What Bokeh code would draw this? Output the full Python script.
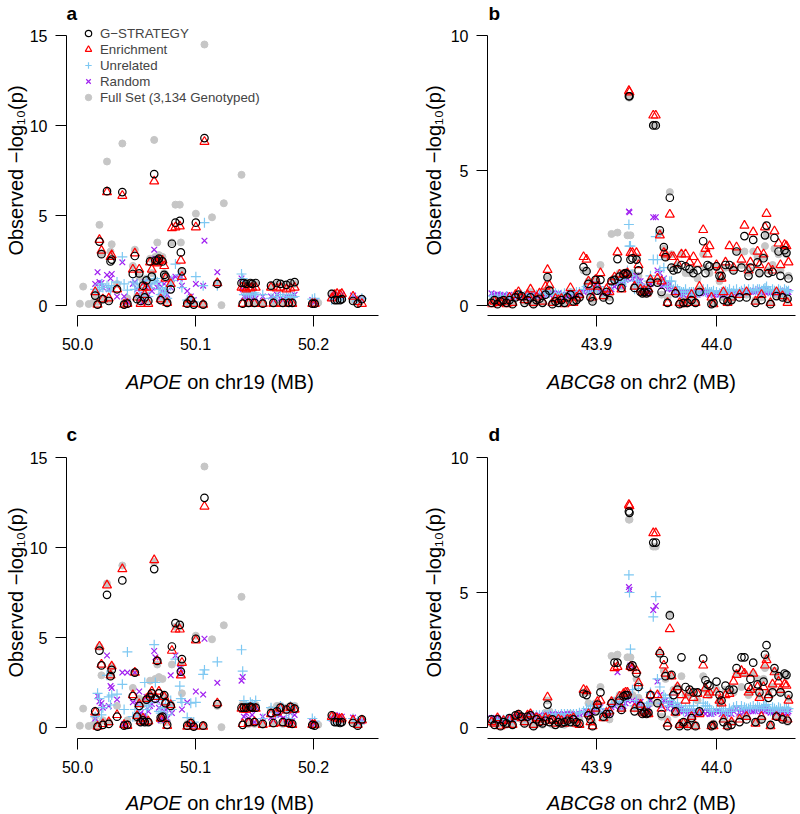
import numpy as np
from bokeh.plotting import figure
from bokeh.models import (ColumnDataSource, Range1d, FixedTicker, PrintfTickFormatter,
                          Legend, LegendItem, Div)
from bokeh.layouts import column, row
from bokeh.embed import file_html
from bokeh.resources import INLINE

N = float("nan")

# ---------------- APOE locus (chr19, Mb) : panels a and c ----------------
apoe_pos = [50.0020, 50.0048, 50.0095, 50.0133,
            50.0150, 50.0170, 50.0186, 50.0203, 50.0215, 50.0250, 50.0265, 50.0280, 50.0290, 50.0335,
            50.0380, 50.0395, 50.0423, 50.0469, 50.0486, 50.0505, 50.0523, 50.0535, 50.0555, 50.0570,
            50.0585, 50.0600, 50.0615, 50.0630, 50.0650, 50.0660, 50.0676, 50.0690, 50.0705, 50.0720,
            50.0735, 50.0746, 50.0760, 50.0790, 50.0800, 50.0830, 50.0867, 50.0876, 50.0885, 50.0930,
            50.0960, 50.0985, 50.1003, 50.1065, 50.1076, 50.1140, 50.1185, 50.1220, 50.1240, 50.1390,
            50.1400, 50.1410, 50.1430, 50.1450, 50.1465, 50.1480, 50.1500, 50.1510, 50.1570, 50.1640,
            50.1660, 50.1690, 50.1720, 50.1740, 50.1770, 50.1790, 50.1805, 50.1820, 50.1840, 50.1990,
            50.2010, 50.2040, 50.2155, 50.2180, 50.2200, 50.2225, 50.2240, 50.2335, 50.2375, 50.2410]
apoe_full = [0.10, 1.05, 0.08, 0.15,
             0.6, 0.2, 4.48, 2.9, 0.4, 8.0, 0.3, 3.0, 3.4, 1.2,
             9.0, 0.15, 0.4, 2.2, 3.1, 0.5, 1.6, 0.3, 1.3, 0.6,
             1.5, 0.3, 2.6, 1.8, 9.2, 2.7, 3.5, 2.8, 0.4, 2.7,
             1.8, 1.7, 0.3, 1.3, 3.5, 5.6, 5.6, 3.5, 1.9, 0.2,
             0.35, 0.1, 5.1, 0.1, 14.5, 4.9, 1.2, 0.02, 5.68, 7.26,
             1.3, 1.2, 1.2, 0.2, 1.2, 1.2, 0.2, 1.25, 0.15, 1.0,
             0.2, 1.2, 1.2, 0.2, 1.1, 0.2, 1.2, 0.2, 1.2, 0.15,
             0.15, 0.15, 0.7, 0.3, 0.3, 0.3, 0.4, 0.3, 0.1, 0.35]
apoe_gstrat_a = [N, N, N, N,
                 0.55, 0.05, 3.55, 2.85, 0.35, 6.35, 0.25, 2.45, 2.55, 0.9,
                 6.3, 0.05, 0.1, 1.75, 2.75, 0.35, 1.78, 0.25, 1.1, 0.45,
                 1.4, 0.25, 2.45, 1.6, 7.3, 2.5, 2.5, 2.6, 0.3, 2.45,
                 1.7, 1.6, 0.15, 0.9, 3.43, 4.6, 4.7, 2.95, 1.9, 0.1,
                 0.3, 0.05, 4.6, 0.05, 9.3, N, 1.2, N, N, 1.25,
                 0.1, 1.25, 1.2, 0.15, 1.25, 1.2, 0.15, 1.25, 0.1, 1.1,
                 0.15, 1.25, 1.2, 0.15, 1.15, 0.15, 1.25, 0.15, 1.3, 0.1,
                 0.1, N, 0.65, 0.3, 0.3, 0.3, 0.35, 0.25, 0.1, 0.35]
apoe_enrich_a = [N, N, N, N,
                 0.75, 0.05, 3.65, 3.05, 0.35, 6.3, 0.4, 2.7, 2.8, 0.9,
                 6.1, 0.05, 0.1, 2.0, 2.9, 0.45, 2.0, 0.1, 1.0, 0.6,
                 1.0, 0.1, 2.4, 2.0, 6.9, 2.4, 2.35, 2.5, 0.35, 2.5,
                 2.2, 1.5, 0.15, 1.2, 4.3, 4.35, 4.4, 2.5, 1.6, 0.1,
                 0.35, 0.1, 4.35, 0.05, 9.1, N, 1.25, N, N, 1.0,
                 0.1, 1.0, 0.9, 0.1, 0.95, 1.0, 0.1, 1.0, 0.1, 1.0,
                 0.1, 0.95, 1.0, 0.1, 0.9, 0.1, 0.95, 0.1, 1.0, 0.1,
                 0.1, N, 0.4, 0.6, 0.65, 0.6, 0.65, 0.5, 0.2, 0.1]
apoe_unrel_a = [N, N, N, N,
                0.9, 0.8, 0.9, 1.2, 1.0, 1.1, 1.0, 0.8, 1.1, 1.3,
                2.7, 1.2, 0.85, 1.3, 0.9, 1.2, 1.0, 0.5, 0.6, 1.1,
                1.4, 0.5, 1.0, 1.2, 1.4, 1.5, 1.3, 0.9, 0.6, 1.0,
                0.7, 0.9, 0.4, 1.1, 1.4, 2.3, 1.7, 1.5, 1.0, 0.3,
                0.4, 0.2, 1.6, 1.1, 4.6, N, 1.1, N, N, 1.75,
                1.5, 0.6, 0.7, 0.6, 0.6, 0.7, 0.7, 0.6, 0.6, 0.4,
                0.4, 0.5, 0.6, 0.5, 0.5, 0.4, 0.6, 0.45, 0.5, 0.35,
                0.4, N, 0.3, 0.4, 0.5, 0.4, 0.5, 0.4, 0.3, 0.4]
apoe_random_a = [N, N, N, N,
                 1.2, 1.85, 1.3, 1.25, 1.0, 1.7, 0.9, 1.5, 1.75, 0.5,
                 2.4, 0.5, 0.2, 1.2, 1.3, 0.9, 0.6, 0.4, 0.2, 1.3,
                 1.0, 0.6, 1.1, 0.8, 3.1, 2.6, 1.0, 1.2, 0.5, 0.8,
                 1.2, 0.7, 0.6, 1.0, 1.5, 1.6, 1.5, 1.6, 1.1, 0.8,
                 0.5, 0.3, 1.2, 1.1, 3.6, N, 1.85, N, N, 1.5,
                 0.9, 0.5, 0.5, 0.4, 0.5, 0.6, 0.5, 0.4, 0.5, 0.5,
                 0.3, 0.6, 0.4, 0.3, 0.5, 0.3, 0.5, 0.4, 0.6, 0.3,
                 0.2, N, 0.4, 0.6, 0.55, 0.5, 0.6, 0.55, 0.4, 0.3]
apoe_gstrat_c = [N, N, N, N,
                 0.9, 0.05, 4.27, 3.45, 0.15, 7.37, 0.2, 2.85, 3.2, 0.6,
                 8.17, 0.1, 0.15, 1.75, 3.05, 0.6, 1.2, 0.3, 0.4, 0.3,
                 1.55, 0.3, 1.7, 1.9, 8.8, 1.6, 3.7, 1.9, 0.55, 0.6,
                 1.8, 1.35, 0.15, 1.2, 4.5, 5.8, 5.7, 3.1, 3.8, 0.1,
                 0.25, 0.05, 4.93, 0.1, 12.76, N, 1.3, N, N, 1.1,
                 0.15, 1.1, 1.1, 0.3, 1.15, 1.1, 0.3, 1.1, 0.2, 0.8,
                 0.25, 0.9, 1.1, 0.3, 1.0, 0.25, 1.15, 0.2, 1.05, 0.15,
                 0.1, N, 0.68, 0.3, 0.3, 0.25, 0.3, 0.25, 0.1, 0.45]
apoe_enrich_c = [N, N, N, N,
                 0.85, 0.05, 4.5, 3.5, 0.2, 7.9, 0.3, 2.9, 3.4, 0.7,
                 8.8, 0.15, 0.1, 1.8, 3.05, 0.65, 1.3, 0.35, 0.5, 0.3,
                 1.6, 0.35, 1.8, 2.0, 9.3, 1.7, 3.7, 2.0, 0.5, 0.5,
                 1.7, 1.4, 0.1, 1.25, 4.27, 5.45, 5.45, 2.9, 3.6, 0.05,
                 0.2, 0.05, 4.85, 0.05, 12.28, N, 1.35, N, N, 1.05,
                 0.2, 1.0, 1.0, 0.25, 1.1, 1.05, 0.3, 1.05, 0.15, 0.75,
                 0.2, 0.85, 1.05, 0.25, 0.95, 0.2, 1.1, 0.15, 1.0, 0.15,
                 0.15, N, 0.6, 0.55, 0.5, 0.45, 0.5, 0.4, 0.15, 0.4]
apoe_unrel_c = [N, N, N, N,
                0.6, 1.9, 1.6, 0.7, 1.1, 2.9, 1.7, 1.25, 1.8, 1.85,
                2.4, 1.0, 4.2, 0.6, 1.0, 1.0, 0.7, 1.2, 0.5, 2.5,
                1.0, 1.2, 1.4, 1.6, 4.6, 2.5, 1.6, 0.9, 0.8, 1.3,
                1.1, 1.5, 0.7, 1.5, 1.0, 3.8, 2.3, 1.6, 1.4, 0.55,
                1.35, 0.3, 1.4, 2.95, 3.2, N, 3.65, N, N, 4.32,
                3.13, 1.5, 1.2, 1.1, 1.4, 1.3, 1.2, 1.5, 0.5, 1.1,
                0.6, 0.9, 1.2, 1.1, 0.8, 0.5, 1.2, 0.9, 1.1, 0.5,
                0.35, N, 0.4, 0.5, 0.45, 0.4, 0.5, 0.5, 0.35, 0.3]
apoe_random_c = [N, N, N, N,
                 0.5, 1.75, 1.45, 1.35, 1.1, 4.0, 1.2, 2.3, 2.2, 1.55,
                 3.05, 0.2, 3.05, 1.4, 3.05, 1.3, 2.0, 0.8, 0.3, 0.7,
                 1.7, 0.9, 1.2, 1.3, 4.25, 3.9, 1.5, 1.1, 0.4, 0.6,
                 0.9, 1.0, 0.5, 2.9, 0.8, 4.0, 3.3, 3.0, 1.0, 1.4,
                 0.2, 0.1, 2.0, 1.83, 4.93, N, 2.48, N, N, 2.6,
                 2.8, 0.6, 0.8, 0.5, 1.0, 0.7, 0.3, 1.1, 0.6, 0.55,
                 0.4, 0.8, 0.7, 0.5, 0.45, 0.3, 0.8, 0.35, 0.7, 0.3,
                 0.2, N, 0.5, 0.7, 0.65, 0.55, 0.6, 0.55, 0.3, 0.35]

# ---------------- ABCG8 locus (chr2, Mb) : panels b and d ----------------
abcg8_pos = [43.8125, 43.8150, 43.8175, 43.8200, 43.8225, 43.8250, 43.8275, 43.8300, 43.8325, 43.8350,
             43.8375, 43.8400, 43.8425, 43.8450, 43.8475, 43.8500, 43.8525, 43.8550, 43.8575, 43.8592,
             43.8608, 43.8633, 43.8658, 43.8683, 43.8708, 43.8733, 43.8758, 43.8783, 43.8808, 43.8833,
             43.8858, 43.8892, 43.8917, 43.8933, 43.8950, 43.8967, 43.8992, 43.9008, 43.9033, 43.9058,
             43.9083, 43.9108, 43.9125, 43.9150, 43.9175, 43.9192, 43.9208, 43.9225, 43.9242, 43.9258,
             43.9270, 43.9275, 43.9283, 43.9300, 43.9317, 43.9333, 43.9350, 43.9367, 43.9383, 43.9400,
             43.9417, 43.9433, 43.9450, 43.9473, 43.9494, 43.9508, 43.9528, 43.9542, 43.9561, 43.9575,
             43.9592, 43.9611, 43.9625, 43.9642, 43.9658, 43.9675, 43.9692, 43.9708, 43.9725, 43.9742,
             43.9758, 43.9775, 43.9792, 43.9808, 43.9825, 43.9842, 43.9858, 43.9889, 43.9908, 43.9925,
             43.9942, 43.9958, 43.9975, 44.0000, 44.0025, 44.0042, 44.0058, 44.0075, 44.0092, 44.0108,
             44.0125, 44.0142, 44.0167, 44.0192, 44.0208, 44.0233, 44.0250, 44.0267, 44.0283, 44.0306,
             44.0325, 44.0342, 44.0358, 44.0375, 44.0392, 44.0404, 44.0417, 44.0433, 44.0450, 44.0467,
             44.0483, 44.0500, 44.0517, 44.0533, 44.0550, 44.0567, 44.0583, 44.0592, 44.0600]
abcg8_full = [.15, .20, .10, .15, .20, .10, .25, .10, .35, .40,
              .30, .15, .20, .50, .05, .20, .30, .10, .55, 1.00,
              .60, .10, .20, .15, .20, .10, .25, .50, .15, .20,
              .30, 1.30, 1.30, .90, .40, .20, .90, .60, 1.50, .35,
              .50, .30, 2.65, 1.00, 2.70, 1.20, .70, 1.20, 1.20, 2.60,
              7.70, 7.70, 2.60, 1.20, .70, 1.80, 1.10, .60, .50, .60,
              .50, .55, .90, 6.70, 6.70, .90, 2.70, .40, 2.10, 1.80,
              .30, 4.20, 1.90, 1.40, .50, 1.50, .05, 1.90, .20, 1.20,
              .10, 1.20, .30, 1.30, .10, 1.00, .60, 1.90, 1.40, 1.30,
              1.20, .10, .15, 1.40, .90, 1.00, .30, 1.40, .10, 1.40,
              .20, 1.30, 2.00, .40, 1.50, 2.00, .40, 1.20, 1.30, 2.00,
              .20, 1.80, 1.20, .30, 1.80, 2.20, 2.60, 1.30, .10, 1.50,
              2.10, .40, 1.90, 1.30, .30, 2.00, 1.90, .20, 1.10]
abcg8_gstrat_b = [.10, .20, .05, .15, .20, .10, .20, .05, .30, .40,
                  .35, .10, .20, .30, .05, .20, .25, .10, .40, 1.05,
                  .55, .05, .15, .10, .20, .10, .30, .40, .15, .20,
                  .30, 1.42, 1.27, .80, .30, .15, .95, .55, .95, .30,
                  .50, .20, .90, .95, 1.72, 1.07, .65, 1.15, 1.20, 1.15,
                  7.75, 7.75, 1.70, 1.75, .65, 1.70, 1.30, .50, .45, .50,
                  .45, .50, .85, 6.67, 6.67, .85, 2.78, .50, 2.16, 1.79,
                  .10, 3.99, 1.40, 1.30, .45, 1.35, .05, 1.50, .10, 1.45,
                  .10, 1.35, .20, 1.20, .10, 1.30, .50, 2.38, 1.20, 1.50,
                  1.45, .05, .10, 1.45, 1.10, 1.10, .20, 1.50, .15, 1.50,
                  .20, 1.30, 2.00, .30, 1.40, 2.57, .30, 1.10, 1.40, 2.43,
                  .10, 1.60, 1.20, .20, 1.75, 2.60, 2.96, 1.20, .05, 1.25,
                  2.50, .35, 2.00, 1.10, .30, 2.05, 1.95, .25, 1.00]
abcg8_enrich_b = [.05, .15, .10, .10, .15, .05, .30, .10, .40, .50,
                  .30, .20, .40, .60, .10, .30, .45, .15, .70, 1.32,
                  .75, .10, .25, .20, .25, .05, .30, .65, .10, .30,
                  .40, 1.80, 1.70, .90, .70, .30, .95, .70, 1.20, .35,
                  .60, .50, .90, 1.05, 1.97, 1.15, .60, 1.15, 1.15, 1.20,
                  7.95, 7.90, 1.95, 1.95, .70, 1.95, 1.50, .60, .50, .55,
                  .45, .60, .95, 7.04, 7.04, 1.00, 2.60, .90, 1.95, 1.90,
                  .10, 3.37, 1.80, 1.80, .50, 1.55, .10, 1.90, .05, 1.90,
                  .10, 1.60, .40, 1.80, .10, 1.55, .70, 2.80, 2.10, 1.90,
                  2.20, .30, .05, 1.50, 1.30, 1.00, .50, 1.60, .10, 2.20,
                  .30, 1.40, 2.16, .40, 1.70, 2.96, .50, 1.30, 1.60, 2.72,
                  .15, 2.00, 1.50, .40, 1.90, 2.90, 3.40, 1.40, .10, 1.30,
                  2.75, .50, 2.30, 1.50, .35, 2.25, 2.20, .10, 1.60]
abcg8_unrel_b = [.35, .30, .30, .35, .30, .35, .30, .30, .35, .35,
                 .40, .35, .40, .40, .35, .40, .40, .40, .45, .50,
                 .45, .40, .45, .40, .40, .45, .40, .45, .45, .50,
                 .50, .60, .70, .60, .50, .60, .70, .60, .70, .50,
                 .50, .60, .80, .90, .90, 1.00, .80, 1.00, .90, 1.30,
                 3.00, 2.20, 2.20, 1.10, .60, .90, .80, .70, .60, .60,
                 .70, .90, 1.10, 1.70, 2.55, 1.70, 1.30, .90, 1.40, .90,
                 .70, .90, .90, .60, .70, .60, .50, .50, .50, .60,
                 .40, .50, .50, .50, .40, .45, .50, .60, .50, .60,
                 .50, .50, .55, .50, .45, .50, .50, .55, .50, .60,
                 .45, .55, .60, .50, .55, .60, .50, .60, .50, .60,
                 .55, .60, .60, .55, .60, .65, .70, .55, .50, .60,
                 .55, .50, .60, .55, .50, .60, .55, .50, .55]
abcg8_random_b = [.45, .40, .42, .40, .38, .35, .40, .35, .30, .35,
                  .30, .35, .30, .35, .40, .35, .40, .35, .40, .45,
                  .40, .45, .40, .45, .40, .35, .40, .40, .45, .40,
                  .45, .50, .60, .55, .60, .50, .80, .70, .50, .45,
                  .50, .50, .60, .70, .80, .90, .70, .80, .95, 1.00,
                  3.48, 3.45, 1.10, 1.00, .85, 1.10, .90, .90, .70, .60,
                  .50, .60, .80, 3.27, 3.27, 1.30, 1.20, .70, 1.00, .80,
                  .60, .80, .60, .50, .60, .50, .40, .50, .40, .50,
                  .50, .40, .50, .50, .40, .40, .45, .50, .45, .50,
                  .40, .45, .40, .45, .40, .40, .50, .40, .45, .50,
                  .40, .45, .50, .45, .50, .55, .50, .50, .55, .50,
                  .50, .55, .60, .50, .55, .50, .60, .50, .45, .50,
                  .50, .45, .50, .55, .50, .55, .50, .50, .50]
abcg8_gstrat_d = [.30, .10, .30, .05, .20, .15, .35, .10, .45, .50,
                  .40, .15, .40, .45, .05, .30, .20, .15, .25, .85,
                  .20, .30, .10, .20, .15, .20, .25, .20, .30, .20,
                  .15, 1.25, 1.20, .45, .30, .05, .60, .85, 1.30, .40,
                  .50, .50, .90, 2.40, 2.40, 1.00, .65, 1.15, 1.20, 1.20,
                  8.00, 7.95, 2.25, 2.30, .60, 2.00, 1.50, .80, .50, .55,
                  .50, .55, 1.20, 6.85, 6.85, .90, 2.75, .50, 2.50, 1.90,
                  .05, 4.15, 1.95, 1.20, .60, 1.40, .05, 2.60, .20, 1.50,
                  .05, 1.40, .35, 1.30, .05, 1.30, .60, 2.55, 1.75, 1.60,
                  1.55, .05, .10, 1.70, 1.20, 1.00, .20, 1.55, .05, 1.40,
                  .10, 1.40, 2.20, .20, 2.60, 2.60, .30, 1.50, 1.80, 2.40,
                  .20, 1.60, 1.30, .30, 1.70, 2.70, 3.05, 1.10, .10, 1.30,
                  2.20, .40, 1.90, 1.30, .30, 2.00, 1.95, .25, 1.20]
abcg8_enrich_d = [.20, .15, .35, .05, .25, .10, .30, .10, .40, .45,
                  .35, .20, .45, .50, .10, .35, .30, .20, .35, 1.12,
                  .30, .25, .15, .30, .25, .15, .30, .30, .35, .15,
                  .10, 1.40, 1.35, .50, .20, .05, .70, .95, 1.00, .35,
                  .55, .60, .95, 2.20, 2.25, 1.15, .70, 1.25, 1.30, 1.30,
                  8.25, 8.20, 2.25, 2.20, .70, 2.10, 1.65, .85, .55, .60,
                  .50, .50, 1.20, 7.20, 7.20, 1.20, 2.80, .70, 2.30, 2.00,
                  .15, 3.65, 1.90, 1.30, .55, 1.50, .10, 1.20, .15, 1.00,
                  .10, 1.30, .40, 1.10, .05, 1.25, .50, 2.30, 1.45, 1.20,
                  1.30, .05, .05, 1.30, 1.00, .90, .30, 1.20, .05, 1.25,
                  .20, 1.70, 1.95, .30, 2.10, 2.00, .40, 1.30, 1.40, 2.00,
                  .15, 1.50, 1.10, .40, 1.50, 2.30, 2.50, 1.20, .05, 1.60,
                  2.05, .40, 1.70, 1.40, .35, 1.60, 1.55, .30, 1.00]
abcg8_unrel_d = [.30, .25, .30, .25, .30, .30, .30, .30, .35, .40,
                 .40, .35, .40, .35, .45, .45, .45, .45, .45, .45,
                 .50, .45, .50, .45, .50, .50, .50, .50, .50, .50,
                 .55, .60, .70, .60, .70, .80, .80, .80, .70, .55,
                 .60, .55, .85, .90, 1.10, .95, .80, 1.20, 1.00, 1.30,
                 5.65, 5.00, 2.90, 1.40, .80, 1.00, 1.45, .75, .70, .60,
                 .80, .90, 1.30, 4.10, 4.85, 1.80, 1.50, .90, 1.20, 1.10,
                 .80, 1.00, 1.20, .90, .80, .90, .70, .80, .60, .70,
                 .60, .80, .60, .80, .50, .70, .60, .90, .80, .80,
                 .70, .60, .60, .70, .70, .60, .60, .60, .50, .70,
                 .60, .75, .80, .65, .80, .75, .70, .70, .75, .80,
                 .70, .80, .75, .70, .80, .80, .85, .70, .60, .75,
                 .70, .65, .75, .70, .60, .70, .75, .60, .70]
abcg8_random_d = [.35, .30, .35, .30, .25, .30, .35, .30, .40, .45,
                  .40, .35, .35, .40, .45, .40, .45, .40, .45, .50,
                  .45, .50, .45, .50, .45, .50, .50, .50, .45, .50,
                  .50, .55, .60, .55, .60, .60, .70, .75, .75, .50,
                  .55, .50, .75, .80, 2.05, .90, .75, .80, .90, 1.00,
                  5.20, 5.10, 2.30, 1.00, .90, .90, .90, .95, .80, .70,
                  .60, .70, 1.00, 4.35, 4.50, 1.70, 1.20, .80, 1.00, 1.00,
                  .70, .90, .90, .70, .70, .80, .60, .70, .60, .60,
                  .50, .60, .55, .60, .50, .55, .50, .60, .50, .60,
                  .50, .50, .55, .60, .60, .50, .55, .50, .50, .60,
                  .50, .60, .70, .55, .65, .60, .60, .60, .65, .60,
                  .60, .65, .70, .60, .70, .60, .70, .60, .55, .60,
                  .60, .55, .65, .60, .55, .60, .65, .55, .60]

apoe_xticks = [50.0, 50.1, 50.2]
abcg8_xticks = [43.9, 44.0]
apoe_yticks = [0, 5, 10, 15]
abcg8_yticks = [0, 5, 10]

legend_labels = ["G\u2212STRATEGY", "Enrichment", "Unrelated", "Random",
                 "Full Set (3,134 Genotyped)"]

FONT = "Liberation Sans"
C_FULL = "#C6C6C6"
C_G = "black"
C_E = "#FF0000"
C_U = "#7EC8F2"
C_R = "#A020F0"
YLAB = "Observed \u2212log\u2081\u2080(p)"


def make_panel(letter, pos, full, g, e, u, r, *, fig_w, fig_h, bl, br, bt, bb, gap,
               x_anchor, anchor_off, x_ppu, y_ppu, xticks, yticks, xbounds,
               ybound_end, ylab_standoff, letter_x, with_legend=False):
    fw = fig_w - bl - br
    fh = fig_h - bt - bb
    x0 = x_anchor - anchor_off / x_ppu
    x1 = x0 + fw / x_ppu
    y0 = -gap / y_ppu
    y1 = y0 + fh / y_ppu
    p = figure(width=fig_w, height=fig_h, x_range=Range1d(x0, x1), y_range=Range1d(y0, y1),
               output_backend="svg", toolbar_location=None, title=letter,
               min_border_left=bl, min_border_right=br, min_border_top=bt, min_border_bottom=bb)
    p.grid.visible = False
    p.outline_line_color = None
    p.background_fill_color = "white"
    p.border_fill_color = "white"

    p.title.align = "left"
    p.title.vertical_align = "top"
    p.title.offset = letter_x
    p.title.standoff = 0
    p.title.text_font = FONT
    p.title.text_font_size = "19px"
    p.title.text_font_style = "bold"
    p.title.text_color = "black"

    src = ColumnDataSource(dict(x=np.array(pos, float), full=np.array(full, float),
                                g=np.array(g, float), e=np.array(e, float),
                                u=np.array(u, float), r=np.array(r, float)))
    r_full = p.scatter("x", "full", source=src, marker="circle", size=7,
                       fill_color=C_FULL, line_color=C_FULL, line_width=1)
    r_rand = p.scatter("x", "r", source=src, marker="x", size=8,
                       line_color=C_R, line_width=1.2)
    r_unrel = p.scatter("x", "u", source=src, marker="cross", size=10,
                        line_color=C_U, line_width=1.2)
    r_enr = p.scatter("x", "e", source=src, marker="triangle", size=9,
                      fill_color=None, line_color=C_E, line_width=1.2)
    r_g = p.scatter("x", "g", source=src, marker="circle", size=7.5,
                    fill_color=None, line_color=C_G, line_width=1.2)

    for ax in (p.xaxis[0], p.yaxis[0]):
        ax.axis_line_color = "black"
        ax.axis_line_width = 1
        ax.major_tick_line_color = "black"
        ax.major_tick_line_width = 1
        ax.major_tick_in = 0
        ax.minor_tick_out = 0
        ax.minor_tick_in = 0
        ax.minor_tick_line_color = None
        ax.major_label_text_font = FONT
        ax.major_label_text_font_size = "16px"
        ax.major_label_text_color = "black"
    p.xaxis.major_tick_out = 11
    p.xaxis.ticker = FixedTicker(ticks=xticks)
    p.xaxis.formatter = PrintfTickFormatter(format="%.1f")
    p.xaxis.bounds = xbounds
    p.xaxis.major_label_standoff = 11
    p.yaxis.major_tick_out = 11
    p.yaxis.ticker = FixedTicker(ticks=yticks)
    p.yaxis.bounds = (0, ybound_end)
    p.yaxis.major_label_standoff = 8
    p.yaxis.axis_label = YLAB
    p.yaxis.axis_label_text_font = FONT
    p.yaxis.axis_label_text_font_size = "20px"
    p.yaxis.axis_label_text_font_style = "normal"
    p.yaxis.axis_label_text_color = "black"
    p.yaxis.axis_label_standoff = ylab_standoff

    if with_legend:
        items = [LegendItem(label=legend_labels[0], renderers=[r_g]),
                 LegendItem(label=legend_labels[1], renderers=[r_enr]),
                 LegendItem(label=legend_labels[2], renderers=[r_unrel]),
                 LegendItem(label=legend_labels[3], renderers=[r_rand]),
                 LegendItem(label=legend_labels[4], renderers=[r_full])]
        leg = Legend(items=items, location=(12, fh - gap - 80 + gap), background_fill_alpha=0,
                     border_line_alpha=0, padding=0, margin=0, spacing=0,
                     glyph_width=20, glyph_height=16, label_height=16, label_standoff=2,
                     label_text_font=FONT, label_text_font_size="13.3px")
        p.add_layout(leg)
    return p


def xlabel_div(gene, rest, pad_left, pad_top, width, height):
    html = ('<div style="font-family:\'Liberation Sans\',Arial,sans-serif;font-size:20px;'
            'line-height:24px;white-space:nowrap;color:black;padding-left:%dpx;padding-top:%dpx;">'
            '<i>%s</i> %s</div>' % (pad_left, pad_top, gene, rest))
    return Div(text=html, width=width, height=height, margin=0)


pa = make_panel("a", apoe_pos, apoe_full, apoe_gstrat_a, apoe_enrich_a, apoe_unrel_a, apoe_random_a,
                fig_w=400, fig_h=362, bl=66, br=10, bt=25, bb=47, gap=10,
                x_anchor=50.0, anchor_off=11, x_ppu=1180, y_ppu=18,
                xticks=apoe_xticks, yticks=apoe_yticks, xbounds=(50.0, 50.255),
                ybound_end=15, ylab_standoff=0, letter_x=0, with_legend=True)
pb = make_panel("b", abcg8_pos, abcg8_full, abcg8_gstrat_b, abcg8_enrich_b, abcg8_unrel_b, abcg8_random_b,
                fig_w=398, fig_h=362, bl=87, br=0, bt=25, bb=47, gap=10,
                x_anchor=43.9, anchor_off=109, x_ppu=1200, y_ppu=27,
                xticks=abcg8_xticks, yticks=abcg8_yticks, xbounds=(43.9 - 109 / 1200, 44.066),
                ybound_end=10, ylab_standoff=3, letter_x=1)
pc = make_panel("c", apoe_pos, apoe_full, apoe_gstrat_c, apoe_enrich_c, apoe_unrel_c, apoe_random_c,
                fig_w=400, fig_h=362, bl=66, br=10, bt=24, bb=46, gap=11,
                x_anchor=50.0, anchor_off=11, x_ppu=1180, y_ppu=18,
                xticks=apoe_xticks, yticks=apoe_yticks, xbounds=(50.0, 50.255),
                ybound_end=15, ylab_standoff=0, letter_x=0)
pd_ = make_panel("d", abcg8_pos, abcg8_full, abcg8_gstrat_d, abcg8_enrich_d, abcg8_unrel_d, abcg8_random_d,
                 fig_w=398, fig_h=362, bl=87, br=0, bt=24, bb=46, gap=11,
                 x_anchor=43.9, anchor_off=109, x_ppu=1200, y_ppu=27,
                 xticks=abcg8_xticks, yticks=abcg8_yticks, xbounds=(43.9 - 109 / 1200, 44.066),
                 ybound_end=10, ylab_standoff=3, letter_x=1)

div_a = xlabel_div("APOE", "on chr19 (MB)", 126, 8, 400, 60)
div_b = xlabel_div("ABCG8", "on chr2 (MB)", 147, 8, 398, 60)
div_c = xlabel_div("APOE", "on chr19 (MB)", 126, 7, 400, 29)
div_d = xlabel_div("ABCG8", "on chr2 (MB)", 147, 7, 398, 29)

layout = column(row(column(pa, div_a), column(pb, div_b)),
                row(column(pc, div_c), column(pd_, div_d)))
open("out.html", "w").write(file_html(layout, INLINE))
